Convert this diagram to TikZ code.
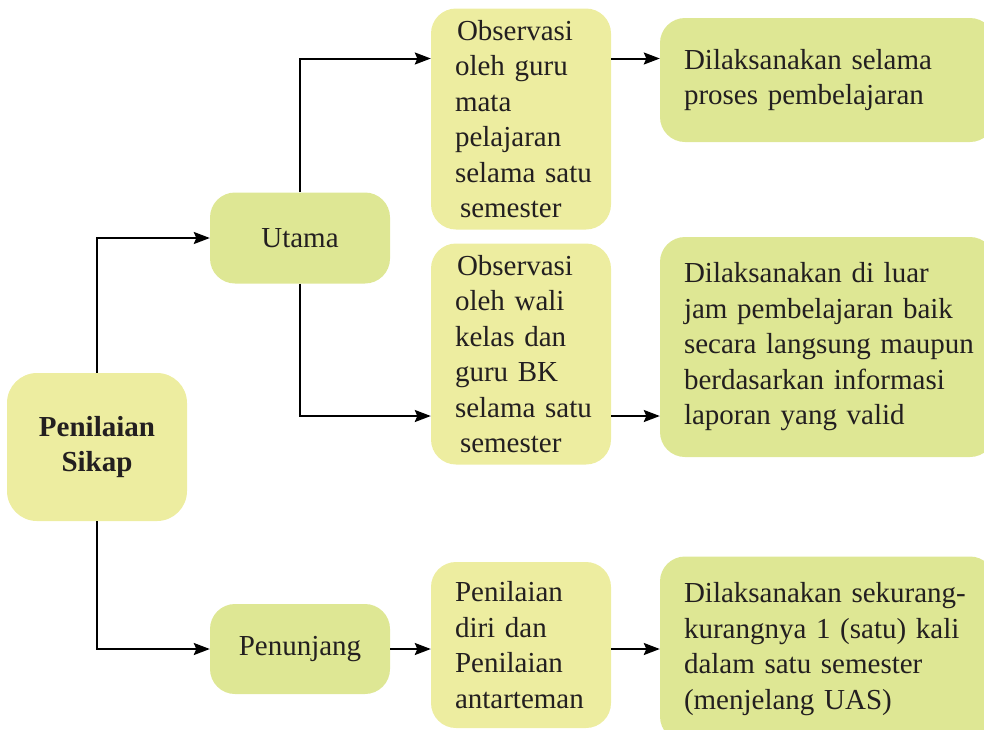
\documentclass[tikz,border=0pt]{standalone}
\usepackage{fontspec}
\setmainfont{Liberation Serif}
\usetikzlibrary{arrows.meta}
\definecolor{boxyellow}{RGB}{237,237,160}
\definecolor{boxgreen}{RGB}{222,231,148}
\definecolor{ink}{RGB}{35,31,32}
% keep every line whole: no automatic hyphenation
\hyphenpenalty=10000
\exhyphenpenalty=10000
\begin{document}
\begin{tikzpicture}[x=1pt,y=-1pt,
  card/.style={rounded corners=25pt, inner ysep=0pt, text=ink,
    font=\fontsize{29}{35.5}\selectfont},
  midcard/.style={card, fill=boxyellow, minimum width=180pt,
    text width=132pt, inner xsep=24pt, align=left},
  endcard/.style={card, fill=boxgreen, minimum width=335pt,
    text width=287pt, inner xsep=24pt, align=left},
  branch/.style={card, fill=boxgreen, minimum width=180pt, align=center},
  arr/.style={draw=black, line width=2pt,
    -{Stealth[length=16pt,width=12pt,inset=2.5pt]}}
]
\useasboundingbox (0,0) rectangle (984,729);

% root
\node[card, fill=boxyellow, rounded corners=30pt, minimum width=180pt,
  minimum height=148pt, align=center,
  font=\fontsize{29}{35.5}\selectfont\bfseries]
  (ps) at (97,447) {Penilaian\\Sikap};

% branches
\node[branch, minimum height=91pt] (ut) at (300,238) {Utama};
\node[branch, minimum height=90pt] (pen) at (300,649) {Penunjang};

% assessment methods
\node[midcard, minimum height=221pt] (obs1) at (521,119)
  {\hspace*{2pt}Observasi\\oleh~guru\\mata\\pelajaran\\selama~satu\\\hspace*{5pt}semester};
\node[midcard, minimum height=221pt] (obs2) at (521,354)
  {\hspace*{2pt}Observasi\\oleh~wali\\kelas~dan\\guru~BK\\selama~satu\\\hspace*{5pt}semester};
\node[midcard, minimum height=166pt] (diri) at (521,645)
  {Penilaian\\diri~dan\\Penilaian\\antarteman};

% timing
\node[endcard, minimum height=124pt] (r1) at (827.5,80)
  {Dilaksanakan~selama\\proses~pembelajaran};
\node[endcard, minimum height=220pt] (r2) at (827.5,347)
  {Dilaksanakan~di~luar\\jam~pembelajaran~baik\\secara~langsung~maupun\\berdasarkan~informasi\\laporan~yang~valid};
\node[endcard, minimum height=185pt] (r3) at (827.5,649)
  {Dilaksanakan~sekurang-\\kurangnya~1~(satu)~kali\\dalam~satu~semester\\(menjelang~UAS)};

% connectors
\draw[arr] (ps.north) |- (ut.west);
\draw[arr] (ps.south) |- (pen.west);
\draw[arr] (ut.north) |- ([yshift=60.5pt]obs1.west);
\draw[arr] (ut.south) |- ([yshift=-62pt]obs2.west);
\draw[arr] ([yshift=60.5pt]obs1.east) -- ([yshift=60.5pt]obs1.east -| r1.west);
\draw[arr] ([yshift=-62pt]obs2.east) -- ([yshift=-62pt]obs2.east -| r2.west);
\draw[arr] (pen.east) -- (pen.east -| diri.west);
\draw[arr] (pen.east -| diri.east) -- (pen.east -| r3.west);
\end{tikzpicture}
\end{document}
